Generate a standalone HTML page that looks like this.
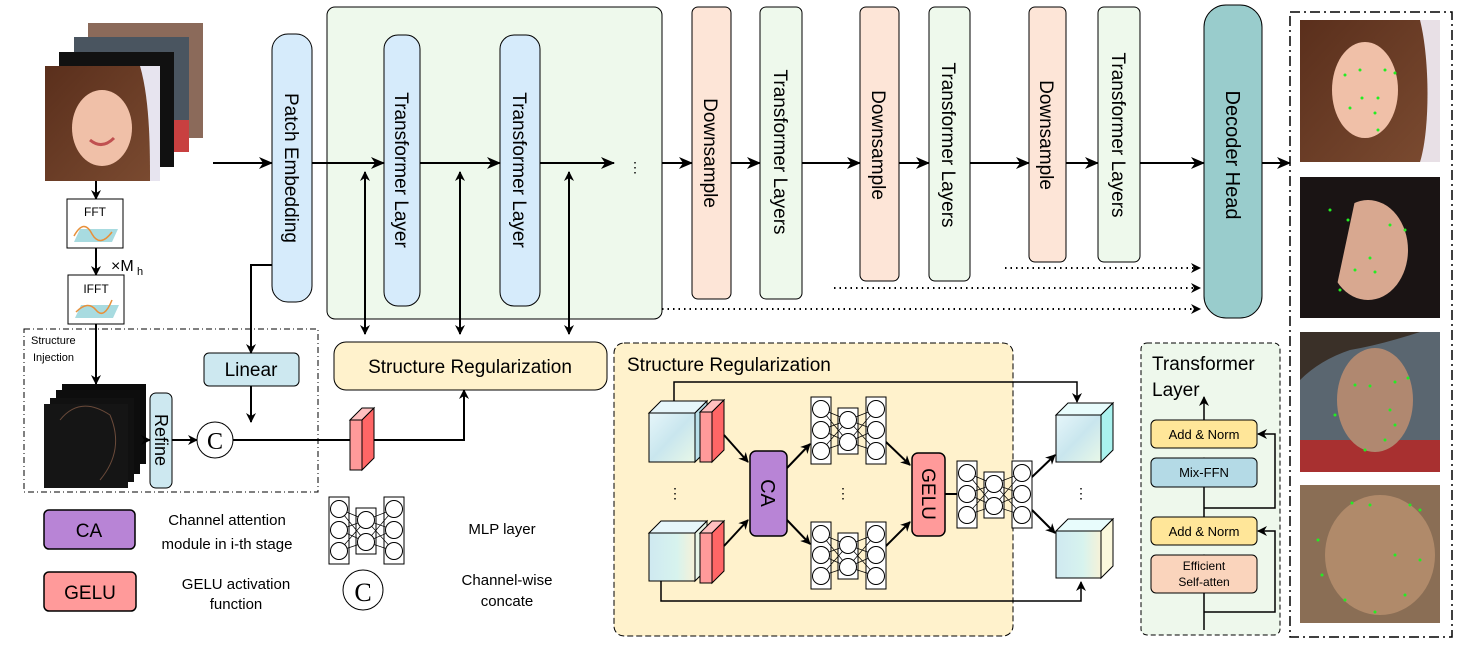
<!DOCTYPE html>
<html><head><meta charset="utf-8"><style>
html,body{margin:0;padding:0;background:#fff;}
svg{display:block;font-family:"Liberation Sans",Arial,sans-serif;}
</style></head><body>
<svg width="1468" height="651" viewBox="0 0 1468 651" xmlns="http://www.w3.org/2000/svg">
<defs>
<marker id="ah" markerWidth="10" markerHeight="10" refX="9" refY="5" orient="auto-start-reverse" markerUnits="userSpaceOnUse"><path d="M0,0 L10,5 L0,10 L3,5 z" fill="#000"/></marker>
<marker id="ahs" markerWidth="14" markerHeight="12" refX="13" refY="6" orient="auto-start-reverse" markerUnits="userSpaceOnUse"><path d="M0,0 L14,6 L0,12 L4,6 z" fill="#000"/></marker>
<linearGradient id="cubeg" x1="0" y1="0" x2="1" y2="1"><stop offset="0" stop-color="#e6f6fa"/><stop offset="0.5" stop-color="#c9e6ee"/><stop offset="1" stop-color="#e8f8e8"/></linearGradient>
<linearGradient id="cubeg2" x1="0" y1="0" x2="1" y2="0"><stop offset="0" stop-color="#cfe9f1"/><stop offset="0.6" stop-color="#d7f3ee"/><stop offset="1" stop-color="#f6f2d8"/></linearGradient>
<linearGradient id="hairg" x1="0" y1="0" x2="1" y2="1"><stop offset="0" stop-color="#5a2f1c"/><stop offset="1" stop-color="#7a4a30"/></linearGradient>
<g id="mlp" fill="#fff" stroke="#000" stroke-width="1">
<rect x="0" y="0" width="20" height="67"/><rect x="27" y="11" width="20" height="46"/><rect x="55" y="0" width="20" height="67"/>
<g stroke-width="0.7"><path d="M10,12 L37,23 M10,12 L37,45 M10,33 L37,23 M10,33 L37,45 M10,54 L37,23 M10,54 L37,45 M37,23 L65,12 M37,23 L65,33 M37,23 L65,54 M37,45 L65,12 M37,45 L65,33 M37,45 L65,54"/></g>
<circle cx="10" cy="12" r="8.5"/><circle cx="10" cy="33" r="8.5"/><circle cx="10" cy="54" r="8.5"/>
<circle cx="37" cy="23" r="8.5"/><circle cx="37" cy="45" r="8.5"/>
<circle cx="65" cy="12" r="8.5"/><circle cx="65" cy="33" r="8.5"/><circle cx="65" cy="54" r="8.5"/>
</g>
<g id="slab" stroke="#000" stroke-width="1"><path d="M0,12 L12,0 L24,0 L12,12 z" fill="#ffc0c0"/><rect x="0" y="12" width="12" height="50" fill="#ff9a9a"/><path d="M12,12 L24,0 L24,50 L12,62 z" fill="#ff6666"/></g>
</defs>

<!-- input image stack -->
<rect x="88" y="23" width="115" height="115" fill="#8b6a5a"/>
<rect x="74" y="37" width="115" height="115" fill="#4a5560"/>
<rect x="130" y="120" width="59" height="32" fill="#c84040"/>
<rect x="59" y="52" width="115" height="115" fill="#111"/>
<rect x="45" y="66" width="115" height="115" fill="#e7e4ef"/>
<path d="M45,66 H140 C150,100 150,150 150,181 H45 z" fill="url(#hairg)"/>
<ellipse cx="102" cy="128" rx="30" ry="38" fill="#f0c0a8"/>
<path d="M90,140 Q102,150 114,138" stroke="#c05050" stroke-width="3" fill="none"/>

<!-- FFT / IFFT -->
<line x1="96" y1="181" x2="96" y2="199" stroke="#000" stroke-width="2" marker-end="url(#ah)"/>
<rect x="67" y="199" width="56" height="49" fill="#fff" stroke="#000"/>
<text x="95" y="216" font-size="12" text-anchor="middle">FFT</text>
<path d="M74,242 L80,229 L118,229 L112,242 z" fill="#a8dbe0"/>
<path d="M74,236 Q84,218 92,234 Q100,248 112,232" stroke="#e8903a" stroke-width="1.5" fill="none"/>
<line x1="96" y1="248" x2="96" y2="275" stroke="#000" stroke-width="2" marker-end="url(#ah)"/>
<text x="111" y="271" font-size="16">×M</text><text x="137" y="275" font-size="11">h</text>
<rect x="68" y="275" width="56" height="49" fill="#fff" stroke="#000"/>
<text x="96" y="293" font-size="12" text-anchor="middle">IFFT</text>
<path d="M75,318 L81,305 L119,305 L113,318 z" fill="#a8dbe0"/>
<path d="M76,312 Q88,300 96,310 Q104,320 112,300" stroke="#e8903a" stroke-width="1.5" fill="none"/>

<!-- structure injection -->
<rect x="24" y="329" width="294" height="163" fill="none" stroke="#000" stroke-dasharray="6,3,1,3"/>
<text x="31" y="344" font-size="11">Structure</text><text x="33" y="361" font-size="11">Injection</text>
<line x1="96" y1="324" x2="96" y2="384" stroke="#000" stroke-width="2" marker-end="url(#ah)"/>
<rect x="62" y="384" width="84" height="80" fill="#0a0a0a"/>
<rect x="56" y="390" width="84" height="84" fill="#0d0d0d"/>
<rect x="50" y="398" width="84" height="84" fill="#111"/>
<rect x="44" y="404" width="84" height="84" fill="#151515"/>
<path d="M60,420 Q80,395 110,415 Q125,450 100,480" stroke="#6a4a3a" fill="none"/>
<line x1="146" y1="440" x2="150" y2="440" stroke="#000" stroke-width="2" marker-end="url(#ah)"/>
<rect x="150" y="393" width="22" height="95" rx="6" fill="#cde8f0" stroke="#000"/>
<text font-size="18" text-anchor="middle" transform="translate(155,440) rotate(90)">Refine</text>
<line x1="172" y1="440" x2="197" y2="440" stroke="#000" stroke-width="2" marker-end="url(#ah)"/>
<circle cx="215" cy="440" r="18" fill="#fff" stroke="#000"/>
<text x="215" y="449" font-size="24" text-anchor="middle" font-family="Liberation Serif,serif">C</text>
<rect x="204" y="353" width="95" height="33" rx="5" fill="#cde8f0" stroke="#000"/>
<text x="251" y="376" font-size="19" text-anchor="middle">Linear</text>
<line x1="251" y1="386" x2="251" y2="422" stroke="#000" stroke-width="2" marker-end="url(#ah)"/>
<polyline points="272,265 251,265 251,353" fill="none" stroke="#000" stroke-width="2" marker-end="url(#ah)"/>
<polyline points="233,440 464,440 464,390" fill="none" stroke="#000" stroke-width="2" marker-end="url(#ah)"/>
<use href="#slab" x="350" y="408"/>

<!-- main pipeline -->
<line x1="213" y1="163" x2="272" y2="163" stroke="#000" stroke-width="2" marker-end="url(#ahs)"/>
<rect x="272" y="34" width="40" height="268" rx="16" fill="#d6ebfb" stroke="#000"/>
<text font-size="19" text-anchor="middle" transform="translate(285,168) rotate(90)">Patch Embedding</text>
<rect x="327" y="7" width="335" height="312" rx="8" fill="#eef9ec" stroke="#000"/>
<rect x="384" y="35" width="36" height="271" rx="14" fill="#d6ebfb" stroke="#000"/>
<text font-size="19" text-anchor="middle" transform="translate(395,170) rotate(90)">Transformer Layer</text>
<rect x="500" y="35" width="40" height="271" rx="14" fill="#d6ebfb" stroke="#000"/>
<text font-size="19" text-anchor="middle" transform="translate(513,170) rotate(90)">Transformer Layer</text>
<line x1="312" y1="163" x2="384" y2="163" stroke="#000" stroke-width="2" marker-end="url(#ahs)"/>
<line x1="420" y1="163" x2="500" y2="163" stroke="#000" stroke-width="2" marker-end="url(#ahs)"/>
<line x1="540" y1="163" x2="614" y2="163" stroke="#000" stroke-width="2" marker-end="url(#ahs)"/>
<text x="628" y="172" font-size="14">⋮</text>
<g stroke="#000" stroke-width="2">
<line x1="365" y1="172" x2="365" y2="334" marker-start="url(#ah)" marker-end="url(#ah)"/>
<line x1="460" y1="172" x2="460" y2="334" marker-start="url(#ah)" marker-end="url(#ah)"/>
<line x1="569" y1="172" x2="569" y2="334" marker-start="url(#ah)" marker-end="url(#ah)"/>
</g>
<rect x="334" y="342" width="273" height="48" rx="12" fill="#fff2cc" stroke="#000"/>
<text x="470" y="373" font-size="19" text-anchor="middle">Structure Regularization</text>

<line x1="662" y1="163" x2="692" y2="163" stroke="#000" stroke-width="2" marker-end="url(#ahs)"/>
<rect x="692" y="7" width="39" height="292" rx="6" fill="#fde5d7" stroke="#000"/>
<text font-size="19" text-anchor="middle" transform="translate(704,153) rotate(90)">Downsample</text>
<line x1="731" y1="163" x2="760" y2="163" stroke="#000" stroke-width="2" marker-end="url(#ahs)"/>
<rect x="760" y="7" width="42" height="292" rx="6" fill="#eef9ec" stroke="#000"/>
<text font-size="19" text-anchor="middle" transform="translate(774,152) rotate(90)">Transformer Layers</text>
<line x1="802" y1="163" x2="860" y2="163" stroke="#000" stroke-width="2" marker-end="url(#ahs)"/>
<rect x="860" y="7" width="39" height="274" rx="6" fill="#fde5d7" stroke="#000"/>
<text font-size="19" text-anchor="middle" transform="translate(872,145) rotate(90)">Downsample</text>
<line x1="899" y1="163" x2="929" y2="163" stroke="#000" stroke-width="2" marker-end="url(#ahs)"/>
<rect x="929" y="7" width="41" height="274" rx="6" fill="#eef9ec" stroke="#000"/>
<text font-size="19" text-anchor="middle" transform="translate(942,145) rotate(90)">Transformer Layers</text>
<line x1="970" y1="163" x2="1029" y2="163" stroke="#000" stroke-width="2" marker-end="url(#ahs)"/>
<rect x="1029" y="7" width="37" height="255" rx="6" fill="#fde5d7" stroke="#000"/>
<text font-size="19" text-anchor="middle" transform="translate(1040,135) rotate(90)">Downsample</text>
<line x1="1066" y1="163" x2="1098" y2="163" stroke="#000" stroke-width="2" marker-end="url(#ahs)"/>
<rect x="1098" y="7" width="42" height="255" rx="6" fill="#eef9ec" stroke="#000"/>
<text font-size="19" text-anchor="middle" transform="translate(1112,135) rotate(90)">Transformer Layers</text>
<line x1="1140" y1="163" x2="1204" y2="163" stroke="#000" stroke-width="2" marker-end="url(#ahs)"/>
<g stroke="#000" stroke-width="2" stroke-dasharray="1.5,4">
<line x1="1005" y1="268" x2="1200" y2="268" marker-end="url(#ah)"/>
<line x1="834" y1="288" x2="1200" y2="288" marker-end="url(#ah)"/>
<line x1="662" y1="309" x2="1200" y2="309" marker-end="url(#ah)"/>
</g>
<rect x="1204" y="5" width="58" height="313" rx="22" fill="#99cccc" stroke="#000"/>
<text font-size="20" text-anchor="middle" transform="translate(1226,155) rotate(90)">Decoder Head</text>
<line x1="1262" y1="163" x2="1290" y2="163" stroke="#000" stroke-width="2" marker-end="url(#ahs)"/>

<!-- right output faces -->
<rect x="1290" y="12" width="162" height="625" fill="none" stroke="#000" stroke-width="1.5" stroke-dasharray="10,4,2,4"/>
<rect x="1300" y="20" width="140" height="142" fill="#e8e0e6"/>
<path d="M1300,20 H1420 C1430,60 1430,130 1420,162 H1300 z" fill="url(#hairg)"/>
<ellipse cx="1365" cy="90" rx="33" ry="48" fill="#f0c0a8"/>
<rect x="1300" y="177" width="140" height="141" fill="#1a1414"/>
<ellipse cx="1368" cy="250" rx="40" ry="50" fill="#d8a890"/>
<path d="M1300,177 H1360 L1330,318 H1300 z" fill="#1a1414"/>
<rect x="1300" y="332" width="140" height="140" fill="#5a6670"/>
<rect x="1300" y="440" width="140" height="32" fill="#a83030"/>
<ellipse cx="1375" cy="400" rx="38" ry="52" fill="#b08870"/>
<path d="M1300,332 H1420 Q1380,345 1350,350 Q1320,360 1300,380 z" fill="#3a3028"/>
<rect x="1300" y="485" width="140" height="138" fill="#8a6e55"/>
<ellipse cx="1380" cy="555" rx="55" ry="60" fill="#b08a6a"/>
<g fill="#22ee22">
<circle cx="1345" cy="75" r="1.5"/><circle cx="1360" cy="70" r="1.5"/><circle cx="1385" cy="70" r="1.5"/><circle cx="1395" cy="73" r="1.5"/><circle cx="1362" cy="98" r="1.5"/><circle cx="1378" cy="98" r="1.5"/><circle cx="1350" cy="108" r="1.5"/><circle cx="1375" cy="113" r="1.5"/><circle cx="1378" cy="130" r="1.5"/>
<circle cx="1330" cy="210" r="1.5"/><circle cx="1348" cy="220" r="1.5"/><circle cx="1390" cy="225" r="1.5"/><circle cx="1405" cy="230" r="1.5"/><circle cx="1370" cy="258" r="1.5"/><circle cx="1355" cy="270" r="1.5"/><circle cx="1375" cy="272" r="1.5"/><circle cx="1340" cy="290" r="1.5"/>
<circle cx="1355" cy="385" r="1.5"/><circle cx="1370" cy="386" r="1.5"/><circle cx="1395" cy="382" r="1.5"/><circle cx="1408" cy="378" r="1.5"/><circle cx="1390" cy="410" r="1.5"/><circle cx="1395" cy="425" r="1.5"/><circle cx="1385" cy="440" r="1.5"/><circle cx="1365" cy="450" r="1.5"/><circle cx="1335" cy="415" r="1.5"/>
<circle cx="1352" cy="503" r="1.5"/><circle cx="1370" cy="505" r="1.5"/><circle cx="1410" cy="505" r="1.5"/><circle cx="1420" cy="510" r="1.5"/><circle cx="1318" cy="540" r="1.5"/><circle cx="1322" cy="575" r="1.5"/><circle cx="1345" cy="600" r="1.5"/><circle cx="1375" cy="612" r="1.5"/><circle cx="1405" cy="595" r="1.5"/><circle cx="1420" cy="560" r="1.5"/><circle cx="1395" cy="555" r="1.5"/>
</g>

<!-- legend -->
<rect x="44" y="510" width="91" height="39" rx="5" fill="#b884d6" stroke="#000" stroke-width="1.5"/>
<text x="89" y="537" font-size="19" text-anchor="middle">CA</text>
<text x="227" y="525" font-size="15" text-anchor="middle">Channel attention</text>
<text x="227" y="549" font-size="15" text-anchor="middle">module in i-th stage</text>
<rect x="44" y="572" width="92" height="39" rx="5" fill="#ff9a9a" stroke="#000" stroke-width="1.5"/>
<text x="90" y="599" font-size="19" text-anchor="middle">GELU</text>
<text x="236" y="589" font-size="15" text-anchor="middle">GELU activation</text>
<text x="236" y="609" font-size="15" text-anchor="middle">function</text>
<use href="#mlp" x="329" y="497"/>
<circle cx="363" cy="590" r="20" fill="#fff" stroke="#000"/>
<text x="363" y="601" font-size="26" text-anchor="middle" font-family="Liberation Serif,serif">C</text>
<text x="502" y="534" font-size="15" text-anchor="middle">MLP layer</text>
<text x="507" y="585" font-size="15" text-anchor="middle">Channel-wise</text>
<text x="507" y="606" font-size="15" text-anchor="middle">concate</text>

<!-- structure regularization panel -->
<rect x="614" y="343" width="399" height="293" rx="10" fill="#fff2cc" stroke="#000" stroke-dasharray="6,3"/>
<text x="627" y="371" font-size="19">Structure Regularization</text>
<polyline points="674,413 674,382 1077,382 1077,402" fill="none" stroke="#000" stroke-width="1.5" marker-end="url(#ah)"/>
<polyline points="661,581 661,601 1081,601 1081,582" fill="none" stroke="#000" stroke-width="1.5" marker-end="url(#ah)"/>
<g stroke="#000" stroke-width="1">
<path d="M649,413 L661,401 L707,401 L695,413 z" fill="#e6f6fa"/><rect x="649" y="413" width="46" height="49" fill="url(#cubeg)"/><path d="M695,413 L707,401 L707,450 L695,462 z" fill="#b8e0ea"/>
<path d="M649,533 L661,521 L707,521 L695,533 z" fill="#e6f6fa"/><rect x="649" y="533" width="46" height="48" fill="url(#cubeg2)"/><path d="M695,533 L707,521 L707,569 L695,581 z" fill="#e8f6e8"/>
<path d="M1056,415 L1068,403 L1113,403 L1101,415 z" fill="#e8fcfc"/><rect x="1056" y="415" width="45" height="47" fill="url(#cubeg)"/><path d="M1101,415 L1113,403 L1113,450 L1101,462 z" fill="#aaf2ee"/>
<path d="M1056,531 L1068,519 L1113,519 L1101,531 z" fill="#e8fcfc"/><rect x="1056" y="531" width="45" height="47" fill="url(#cubeg2)"/><path d="M1101,531 L1113,519 L1113,566 L1101,578 z" fill="#fbf8dc"/>
</g>
<use href="#slab" x="700" y="400"/>
<use href="#slab" x="700" y="521"/>
<text x="668" y="498" font-size="14">⋮</text>
<text x="836" y="498" font-size="14">⋮</text>
<text x="1074" y="498" font-size="14">⋮</text>
<g stroke="#000" stroke-width="2">
<line x1="724" y1="435" x2="748" y2="462" marker-end="url(#ah)"/>
<line x1="724" y1="546" x2="748" y2="520" marker-end="url(#ah)"/>
<line x1="787" y1="468" x2="810" y2="444" marker-end="url(#ah)"/>
<line x1="787" y1="520" x2="810" y2="544" marker-end="url(#ah)"/>
<line x1="886" y1="442" x2="910" y2="465" marker-end="url(#ah)"/>
<line x1="886" y1="546" x2="910" y2="522" marker-end="url(#ah)"/>
<line x1="945" y1="494" x2="957" y2="494"/>
<line x1="1032" y1="477" x2="1055" y2="455" marker-end="url(#ah)"/>
<line x1="1032" y1="510" x2="1055" y2="533" marker-end="url(#ah)"/>
</g>
<rect x="750" y="451" width="37" height="85" rx="6" fill="#b884d6" stroke="#000" stroke-width="1.5"/>
<text font-size="20" text-anchor="middle" transform="translate(761,493) rotate(90)">CA</text>
<rect x="912" y="453" width="33" height="83" rx="6" fill="#ff9a9a" stroke="#000" stroke-width="1.5"/>
<text font-size="19" text-anchor="middle" transform="translate(922,494) rotate(90)">GELU</text>
<use href="#mlp" x="811" y="397"/>
<use href="#mlp" x="811" y="522"/>
<use href="#mlp" x="957" y="461"/>

<!-- transformer layer panel -->
<rect x="1141" y="343" width="139" height="292" rx="6" fill="#eef8ec" stroke="#000" stroke-dasharray="5,3"/>
<text x="1152" y="370" font-size="19">Transformer</text>
<text x="1152" y="396" font-size="19">Layer</text>
<g stroke="#000" stroke-width="1.5" fill="none">
<line x1="1204" y1="630" x2="1204" y2="555" marker-end="url(#ah)"/>
<line x1="1204" y1="545" x2="1204" y2="458" marker-end="url(#ah)"/>
<line x1="1204" y1="420" x2="1204" y2="397" marker-end="url(#ah)"/>
<polyline points="1204,612 1275,612 1275,531 1258,531" marker-end="url(#ah)"/>
<polyline points="1204,508 1275,508 1275,434 1258,434" marker-end="url(#ah)"/>
</g>
<rect x="1151" y="420" width="106" height="28" rx="5" fill="#ffe699" stroke="#000"/>
<text x="1204" y="439" font-size="13" text-anchor="middle">Add &amp; Norm</text>
<rect x="1151" y="458" width="106" height="29" rx="5" fill="#b4dae6" stroke="#000"/>
<text x="1204" y="477" font-size="13" text-anchor="middle">Mix-FFN</text>
<rect x="1151" y="517" width="106" height="28" rx="5" fill="#ffe699" stroke="#000"/>
<text x="1204" y="536" font-size="13" text-anchor="middle">Add &amp; Norm</text>
<rect x="1151" y="555" width="106" height="38" rx="5" fill="#fad4bc" stroke="#000"/>
<text x="1204" y="570" font-size="12" text-anchor="middle">Efficient</text>
<text x="1204" y="586" font-size="12" text-anchor="middle">Self-atten</text>
</svg>
</body></html>
